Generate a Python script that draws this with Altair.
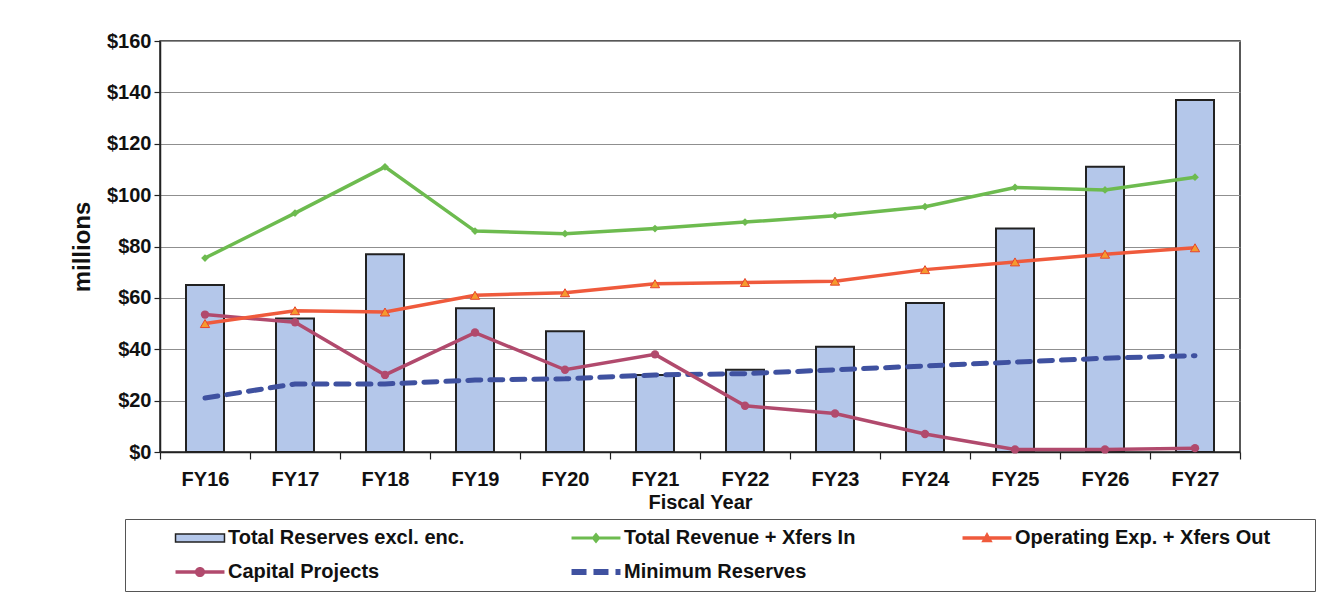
import altair as alt
import pandas as pd

years = ["FY16", "FY17", "FY18", "FY19", "FY20", "FY21", "FY22", "FY23", "FY24", "FY25", "FY26", "FY27"]
series_names = ["Total Reserves excl. enc.", "Total Revenue + Xfers In", "Operating Exp. + Xfers Out",
                "Capital Projects", "Minimum Reserves"]
reserves = [65, 52, 77, 56, 47, 30, 32, 41, 58, 87, 111, 137]
revenue = [75.5, 93, 111, 86, 85, 87, 89.5, 92, 95.5, 103, 102, 107]
opexp = [50, 55, 54.5, 61, 62, 65.5, 66, 66.5, 71, 74, 77, 79.5]
capital = [53.5, 50.5, 30, 46.5, 32, 38, 18, 15, 7, 1, 1, 1.5]
minres = [21, 26.5, 26.5, 28, 28.5, 30, 30.5, 32, 33.5, 35, 36.5, 37.5]
y_ticks = [0, 20, 40, 60, 80, 100, 120, 140, 160]

colors = ["#b4c7ea", "#6dbb4f", "#ef5a3c", "#b14a6d", "#3f51a0"]
legend_strokes = ["#222222", "transparent", "transparent", "transparent", "transparent"]

rows = []
for name, vals in zip(series_names, [reserves, revenue, opexp, capital, minres]):
    for yr, v in zip(years, vals):
        rows.append({"year": yr, "series": name, "value": v})
df = pd.DataFrame(rows)

FONT = "Liberation Sans"

# legend symbol paths (unit = 6px)
legend_shapes = [
    "M-4.08,-0.67L4.08,-0.67L4.08,0.67L-4.08,0.67Z",
    "M-4.08,-0.25L4.08,-0.25L4.08,0.25L-4.08,0.25Z M0,-0.9L0.75,0L0,0.9L-0.75,0Z",
    "M-4.08,-0.3L4.08,-0.3L4.08,0.3L-4.08,0.3Z M0,-1L0.95,0.7L-0.95,0.7Z",
    "M-4.08,-0.3L4.08,-0.3L4.08,0.3L-4.08,0.3Z M-0.85,0A0.85,0.85 0 1,1 0.85,0A0.85,0.85 0 1,1 -0.85,0Z",
    "M-4.08,-0.5L-1.58,-0.5L-1.58,0.5L-4.08,0.5Z M-0.42,-0.5L2.08,-0.5L2.08,0.5L-0.42,0.5Z M3.25,-0.5L4.08,-0.5L4.08,0.5L3.25,0.5Z",
]

legend = alt.Legend(
    title=" ", titleOrient="right", titlePadding=36, titleFontSize=2,
    orient="none", legendX=-35, legendY=478, columns=3, direction="horizontal",
    padding=9, strokeColor="#555555", fillColor="white",
    labelFont=FONT, labelFontSize=20, labelFontWeight="bold", labelColor="#111111", labelLimit=600,
    symbolSize=144, symbolOffset=56, labelOffset=18, columnPadding=65, rowPadding=14,
    symbolStrokeWidth=1.5, symbolOpacity=1,
)

x = alt.X("year:N", sort=years, title="Fiscal Year",
          scale=alt.Scale(paddingInner=0, paddingOuter=0),
          axis=alt.Axis(labelAngle=0, tickBand="extent", tickSize=7, labelPadding=10, titlePadding=3,
                        labelFontSize=20, titleFontSize=20, grid=False))
y = alt.Y("value:Q", title="millions",
          scale=alt.Scale(domain=[0, 160], nice=False),
          axis=alt.Axis(values=y_ticks, format="$,.0f", tickSize=6, labelPadding=3, titlePadding=12,
                        labelFontSize=20, titleFontSize=24, grid=True))

base = alt.Chart(df)


def filt(i):
    return base.transform_filter(alt.datum.series == series_names[i])


bars = filt(0).mark_bar(size=38, fill=colors[0], stroke="#222222", strokeWidth=2).encode(x=x, y=y)
minres_line = filt(4).mark_line(color=colors[4], strokeWidth=5, strokeDash=[13, 9],
                                strokeCap="round").encode(x=x, y=y)
cap_line = filt(3).mark_line(color=colors[3], strokeWidth=3.5).encode(x=x, y=y)
cap_pts = filt(3).mark_point(color=colors[3], shape="circle", filled=True, size=70, opacity=1).encode(x=x, y=y)
op_line = filt(2).mark_line(color=colors[2], strokeWidth=3.5).encode(x=x, y=y)
op_pts = filt(2).mark_point(shape="triangle-up", filled=True, size=85, opacity=1,
                            fill="#f59a2e", stroke="#e5452e", strokeWidth=1).encode(x=x, y=y)
rev_line = filt(1).mark_line(color=colors[1], strokeWidth=3.5).encode(x=x, y=y)
rev_pts = filt(1).mark_point(color=colors[1], shape="diamond", filled=True, size=60, opacity=1).encode(x=x, y=y)

# legend-only layer (draws no marks)
legend_layer = base.transform_filter("false").mark_point(filled=True, opacity=1, strokeWidth=1.5).encode(
    x=x, y=y,
    fill=alt.Fill("series:N", scale=alt.Scale(domain=series_names, range=colors), legend=legend),
    stroke=alt.Stroke("series:N", scale=alt.Scale(domain=series_names, range=legend_strokes), legend=legend),
    shape=alt.Shape("series:N", scale=alt.Scale(domain=series_names, range=legend_shapes), legend=legend),
)

chart = alt.layer(bars, minres_line, cap_line, cap_pts, op_line, op_pts, rev_line, rev_pts, legend_layer).properties(
    width=1080, height=411,
    padding={"left": 62, "top": 23, "right": 4, "bottom": 0},
    background="white",
).configure_axis(
    labelFont=FONT, titleFont=FONT, labelFontWeight="bold", titleFontWeight="bold",
    labelColor="#111111", titleColor="#111111",
    domainColor="#222222", domainWidth=1.5, tickColor="#222222", tickWidth=1.2,
    gridColor="#8f8f8f", gridWidth=1,
).configure_view(stroke="#222222", strokeWidth=1.5)

chart.save("out.html", embed_options={"renderer": "svg", "actions": False})
